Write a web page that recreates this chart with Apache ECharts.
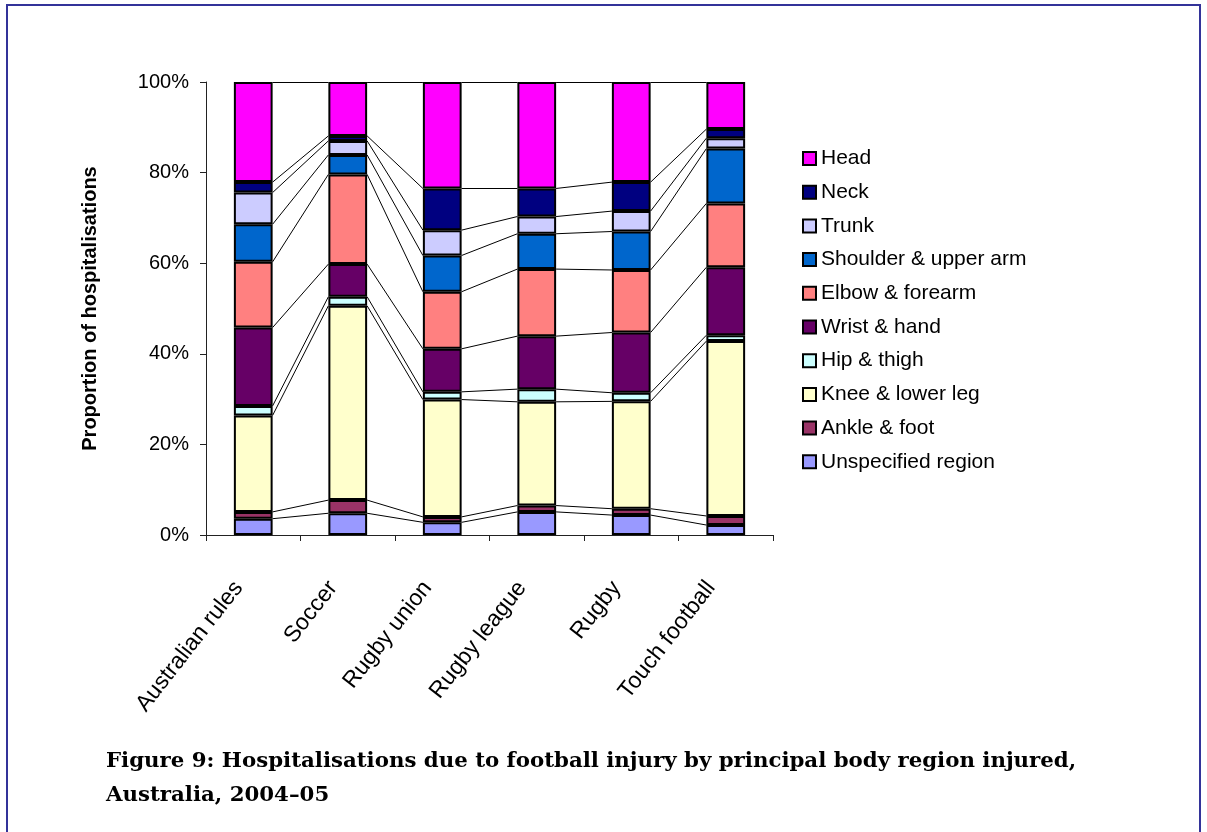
<!DOCTYPE html>
<html lang="en">
<head>
	<meta charset="UTF-8">
	<title>Figure 9</title>
	<style>
		html,body{margin:0px;padding:0px;background:#fff;}
		#main{width:1207px;height:832px;}
	</style>
</head>
<body>
	<div id="main"></div>
</body>
</html>
<script type="text/javascript" src="https://cdn.jsdelivr.net/npm/echarts@6/dist/echarts.min.js"></script>
<script type="text/javascript">
	var sports = ['Australian rules','Soccer','Rugby union','Rugby league','Rugby','Touch football'];
	// bottom to top
	var unspecified = [3.6, 4.8, 2.8, 5.1, 4.4, 2.2];
	var ankleFoot   = [1.5, 2.9, 1.2, 1.4, 1.4, 2.0];
	var kneeLeg     = [21.3, 42.9, 25.9, 22.9, 23.7, 38.6];
	var hipThigh    = [2.1, 2.0, 1.7, 2.8, 1.9, 1.3];
	var wristHand   = [17.3, 7.2, 9.5, 11.7, 13.3, 15.0];
	var elbowArm    = [14.5, 19.8, 12.6, 14.8, 13.8, 14.1];
	var shoulderArm = [8.3, 4.3, 8.0, 7.8, 8.5, 12.1];
	var trunk       = [7.0, 3.1, 5.6, 3.8, 4.5, 2.3];
	var neck        = [2.3, 1.1, 9.2, 6.2, 6.4, 2.0];
	var head        = [22.1, 11.9, 23.5, 23.5, 22.1, 10.4];
	var yTicks = [0, 20, 40, 60, 80, 100];

	var regions = [
		{name:'Unspecified region', data:unspecified, color:'#9999FF'},
		{name:'Ankle & foot', data:ankleFoot, color:'#993366'},
		{name:'Knee & lower leg', data:kneeLeg, color:'#FFFFCC'},
		{name:'Hip & thigh', data:hipThigh, color:'#CCFFFF'},
		{name:'Wrist & hand', data:wristHand, color:'#660066'},
		{name:'Elbow & forearm', data:elbowArm, color:'#FF8080'},
		{name:'Shoulder & upper arm', data:shoulderArm, color:'#0066CC'},
		{name:'Trunk', data:trunk, color:'#CCCCFF'},
		{name:'Neck', data:neck, color:'#000080'},
		{name:'Head', data:head, color:'#FF00FF'}
	];

	var font = 'Liberation Sans, Arial, sans-serif';
	var series = [];
	regions.forEach(function(r){
		series.push({
			name: r.name,
			type: 'bar',
			stack: 'total',
			barWidth: '41%',
			data: r.data,
			itemStyle: {color: r.color, borderColor: '#000', borderWidth: 2},
			emphasis: {disabled: true}
		});
	});

	// series lines joining the tops of matching segments
	var half = 0.205;
	var cum = sports.map(function(){return 0;});
	var segs = [];
	regions.forEach(function(r){
		cum = cum.map(function(c, i){return c + r.data[i];});
		for (var i = 0; i < sports.length - 1; i++) {
			segs.push({coords: [[i + 0.5 + half, cum[i]], [i + 1.5 - half, cum[i + 1]]]});
		}
	});
	series.push({
		type: 'lines',
		coordinateSystem: 'cartesian2d',
		xAxisIndex: 1,
		yAxisIndex: 0,
		data: segs,
		lineStyle: {color: '#000', width: 1, opacity: 1},
		silent: true,
		z: 1
	});

	var option = {
		animation: false,
		backgroundColor: '#fff',
		grid: {left: 206, top: 82, width: 567, height: 453},
		legend: {
			orient: 'vertical',
			left: 797,
			top: 143,
			itemWidth: 13,
			itemHeight: 13,
			itemGap: 12.7,
			itemTextGap: 7,
			icon: 'rect',
			data: regions.map(function(r){return r.name;}).reverse(),
			itemStyle: {borderColor: '#000', borderWidth: 2},
			textStyle: {fontFamily: font, fontSize: 21, color: '#000', lineHeight: 21}
		},
		xAxis: [{
			type: 'category',
			data: sports,
			axisLine: {lineStyle: {color: '#222', width: 1}},
			axisTick: {show: true, length: 6, lineStyle: {color: '#222'}},
			axisLabel: {rotate: 52, interval: 0, fontFamily: font, fontSize: 23, color: '#000', margin: 30, padding: [0, 24, 0, 0]}
		}, {
			type: 'value',
			min: 0,
			max: 6,
			show: false
		}],
		yAxis: {
			type: 'value',
			min: yTicks[0],
			max: yTicks[yTicks.length - 1],
			interval: 20,
			name: 'Proportion of hospitalisations',
			nameLocation: 'middle',
			nameGap: 106,
			nameTextStyle: {fontFamily: font, fontSize: 20, fontWeight: 'bold', color: '#000'},
			axisLine: {show: true, lineStyle: {color: '#222', width: 1}},
			axisTick: {show: true, length: 6, lineStyle: {color: '#222'}},
			splitLine: {show: false},
			axisLabel: {formatter: '{value}%', fontFamily: font, fontSize: 20, color: '#000', margin: 17}
		},
		graphic: [{
			type: 'rect',
			shape: {x: 7, y: 5, width: 1193, height: 900},
			style: {fill: 'none', stroke: '#333399', lineWidth: 2},
			silent: true
		}, {
			type: 'text',
			x: 106,
			y: 761,
			style: {
				text: 'Figure 9: Hospitalisations due to football injury by principal body region injured,',
				font: 'bold 21.3px "DejaVu Serif", serif',
				verticalAlign: 'middle',
				fill: '#000'
			}
		}, {
			type: 'text',
			x: 106,
			y: 795,
			style: {
				text: 'Australia, 2004\u201305',
				font: 'bold 21.3px "DejaVu Serif", serif',
				verticalAlign: 'middle',
				fill: '#000'
			}
		}],
		series: series
	};
	var myChart = echarts.init(document.getElementById('main'));
	myChart.setOption(option);
</script>
